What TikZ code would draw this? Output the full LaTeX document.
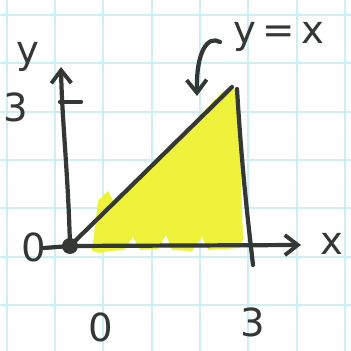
\documentclass[tikz,border=0pt]{standalone}
\usepackage{fontspec}
\setsansfont{DejaVu Sans}
\usepackage{tikz}
\usetikzlibrary{arrows.meta, calc}
\definecolor{inkgray}{HTML}{343834}
\definecolor{gridcyan}{HTML}{CDEFF3}
\definecolor{markeryel}{HTML}{EEF23A}
\tikzset{
  gridline/.style={draw=gridcyan, line width=1.2pt},
  ink/.style={draw=inkgray, line width=2.4pt, line cap=round, line join=round},
  axis/.style={ink, -{Straight Barb[length=2.6mm, width=4mm, line width=2.2pt]}},
  hilite/.style={fill=markeryel, draw=none},
  lbl/.style={text=inkgray, font=\sffamily\fontsize{22}{22}\selectfont, inner sep=0pt}
}
\begin{document}
\begin{tikzpicture}[x=0.02cm, y=0.02cm]
\useasboundingbox (0,0) rectangle (351,351);
\fill[white] (0,0) rectangle (351,351);
% graph paper
\foreach \gx in {7,55,103,152,200,248,297,345}
  \draw[gridline] (\gx,0) -- (\gx,351);
\foreach \gy in {46,94,143,191,239,288,336}
  \draw[gridline] (0,\gy) -- (351,\gy);
% marker fill
\fill[hilite] (92,100) -- (98,150) -- (108,160) -- (114,149) -- (130,162) -- (150,185)
  -- (170,205) -- (190,225) -- (210,246) -- (224,260) -- (238,262) -- (243,112)
  -- (240,103) -- (208,101) -- (202,114) -- (192,100) -- (172,101) -- (166,116)
  -- (158,102) -- (140,101) -- (133,114) -- (124,101) -- (110,100) -- (100,98) -- cycle;
\coordinate (O) at (70,105);
\coordinate (ytop) at (61,284);
\coordinate (xleft) at (44,103);
\coordinate (xright) at (301,106);
\coordinate (peak) at (232,264);
\coordinate (rtop) at (237,262);
\coordinate (rbot) at (253,86);
% axes
\draw[axis] (O) .. controls (68,180) and (62,230) .. (ytop);
\draw[axis] (xleft) -- (O) -- (xright);
\draw[ink] (60,249) -- (81,249);
% region
\draw[ink] (O) -- (peak);
\draw[ink] (rtop) .. controls (242,180) and (248,130) .. (rbot);
\fill[inkgray] (O) circle (8);
% pointer to the line
\coordinate (tail) at (220,309);
\coordinate (tip) at (197,255);
\draw[ink, -{Straight Barb[length=2.6mm, width=4mm, line width=2.2pt]}]
  (tail) .. controls (208,316) and (196,300) .. (tip);
% labels
\node[lbl] (ylab) at (28,294) {y};
\node[lbl] (ythree) at (16,244) {3};
\node[lbl] (yzero) at (34,104) {0};
\node[lbl] (xlab) at (332,107) {x};
\node[lbl] (xzero) at (101,24) {0};
\node[lbl] (xthree) at (253,29) {3};
\node[lbl] (eqn) at (279,314) {y\,=\,x};
\end{tikzpicture}
\end{document}
